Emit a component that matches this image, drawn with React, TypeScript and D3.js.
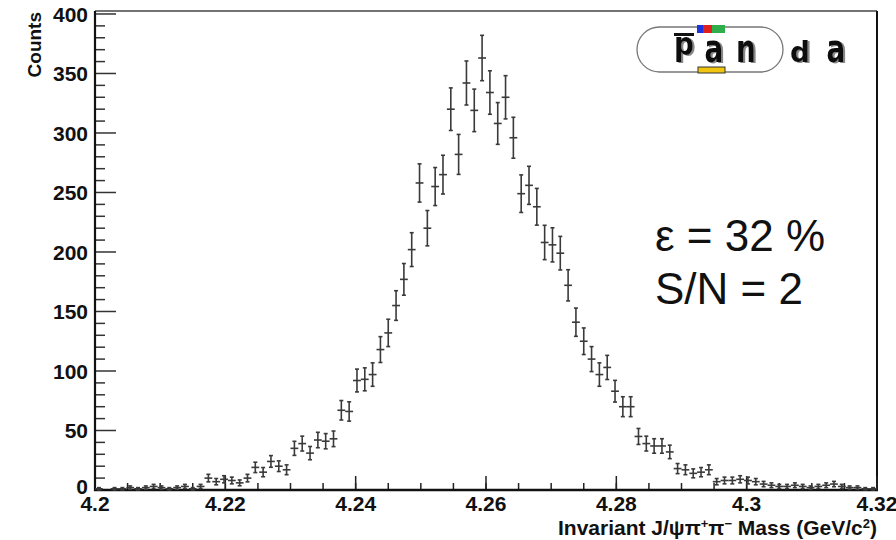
import * as d3 from "d3";

// histogram contents, 100 bins of 1.2 MeV from 4.2 to 4.32 GeV
const counts = [
  1, 0, 1, 1, 2, 1, 2, 3, 2, 1,
  2, 3, 1, 3, 10, 7, 9, 8, 6, 10,
  19, 15, 24, 20, 17, 35, 39, 31, 42, 41,
  43, 67, 66, 92, 93, 97, 118, 132, 155, 177,
  202, 258, 220, 255, 265, 320, 282, 342, 319, 363,
  334, 308, 330, 296, 249, 256, 238, 208, 206, 199,
  172, 141, 125, 110, 97, 103, 83, 70, 70, 45,
  39, 37, 37, 32, 18, 17, 14, 15, 17, 7,
  8, 8, 9, 8, 7, 5, 4, 3, 3, 4,
  3, 2, 3, 4, 5, 3, 2, 2, 1, 1
];
const histLow = 4.2;
const binWidth = 0.0012;

const xTicks = [4.2, 4.22, 4.24, 4.26, 4.28, 4.3, 4.32];
const xTickLabels = ["4.2", "4.22", "4.24", "4.26", "4.28", "4.3", "4.32"];
const yTicks = [0, 50, 100, 150, 200, 250, 300, 350, 400];
const yTickLabels = ["0", "50", "100", "150", "200", "250", "300", "350", "400"];

const infoLines = ["ε = 32 %", "S/N = 2"];
const logoLetters = ["p", "a", "n", "d", "a"];

export default function App() {
  const width = 896;
  const height = 540;
  const marginLeft = 95;
  const marginRight = 19;
  const marginTop = 11;
  const marginBottom = 50;

  const x = d3.scaleLinear()
    .domain([4.2, 4.32])
    .range([marginLeft, width - marginRight]);
  const y = d3.scaleLinear()
    .domain([0, 402.5])
    .range([height - marginBottom, marginTop]);

  const x0 = x.range()[0], x1 = x.range()[1];
  const y0 = y.range()[0], y1 = y.range()[1];

  // minor ticks
  const xMinor = d3.range(0, 25).map(i => 4.2 + i * 0.005);
  const yMinor = d3.range(0, 41).map(i => i * 10).filter(v => v % 50 !== 0);

  const font = "'Liberation Sans', Arial, Helvetica, sans-serif";
  const lx = [684, 714, 746, 800, 836]; // logo letter centres

  return (
    <svg width={width} height={height} style={{ position: "absolute", left: 0, top: 0, background: "#fff" }}>
      <defs>
        <filter id="logoShadow" x="-20%" y="-20%" width="150%" height="150%">
          <feDropShadow dx={2} dy={1} stdDeviation={0.4} floodColor="#888" floodOpacity={1} />
        </filter>
      </defs>
      <rect width={width} height={height} fill="#fff" />

      {/* frame */}
      <line x1={x0} x2={x1} y1={y1} y2={y1} stroke="#444" strokeWidth={1.5} />
      <line x1={x1} x2={x1} y1={y1} y2={y0} stroke="#111" strokeWidth={2} />

      {/* y ticks */}
      <g stroke="#333">
        {yTicks.map(t => (
          <line key={"ym" + t} x1={x0} x2={x0 + 21} y1={y(t)} y2={y(t)} strokeWidth={1.5} />
        ))}
        {yMinor.map(t => (
          <line key={"yn" + t} x1={x0} x2={x0 + 10} y1={y(t)} y2={y(t)} strokeWidth={1.5} />
        ))}
      </g>
      {/* x ticks */}
      <g stroke="#222">
        {xTicks.map(t => (
          <line key={"xm" + t} x1={x(t)} x2={x(t)} y1={y0} y2={y0 - 14} strokeWidth={1.5} />
        ))}
        {xMinor.map((t, i) => (
          <line key={"xn" + i} x1={x(t)} x2={x(t)} y1={y0} y2={y0 - 7} strokeWidth={1.5} />
        ))}
      </g>

      {/* axes */}
      <line x1={x0} x2={x0} y1={y1} y2={y0 + 1} stroke="#111" strokeWidth={2.2} />
      <line x1={x0 - 1} x2={x1 + 1} y1={y0} y2={y0} stroke="#111" strokeWidth={2.5} />

      {/* tick labels */}
      <g fontFamily={font} fontWeight="bold" fontSize={21} fill="#111">
        {yTicks.map((t, i) => (
          <text key={"yl" + t} x={x0 - 7} y={t === 0 ? y(t) - 4 : y(t)} dy="0.36em" textAnchor="end">{yTickLabels[i]}</text>
        ))}
        {xTicks.map((t, i) => (
          <text key={"xl" + t} x={x(t)} y={511} textAnchor="middle">{xTickLabels[i]}</text>
        ))}
      </g>

      {/* axis titles */}
      <text transform="translate(41,12) rotate(-90)" textAnchor="end" fontFamily={font}
        fontWeight="bold" fontSize={19} fill="#111">Counts</text>
      <text x={x1} y={535} textAnchor="end" fontFamily={font} fontWeight="bold" fontSize={21} fill="#111">
        Invariant J/ψπ<tspan dy={-7} fontSize={13}>+</tspan><tspan dy={7}>π</tspan>
        <tspan dy={-7} fontSize={13}>−</tspan><tspan dy={7}> Mass (GeV/c</tspan>
        <tspan dy={-7} fontSize={13}>2</tspan><tspan dy={7}>)</tspan>
      </text>

      {/* histogram points with errors */}
      <g stroke="#3a3a3a" strokeWidth={1.6}>
        {counts.map((c, i) => {
          if (c <= 0) return null;
          const lo = histLow + i * binWidth;
          const cx = x(lo + binWidth / 2);
          const e = Math.sqrt(c);
          return (
            <g key={i}>
              <line x1={x(lo)} x2={x(lo + binWidth)} y1={y(c)} y2={y(c)} />
              <line x1={cx} x2={cx} y1={y(c + e)} y2={y(Math.max(0, c - e))} />
              <line x1={cx - 2} x2={cx + 2} y1={y(c + e)} y2={y(c + e)} />
              <line x1={cx - 2} x2={cx + 2} y1={y(Math.max(0, c - e))} y2={y(Math.max(0, c - e))} />
            </g>
          );
        })}
      </g>

      {/* efficiency text */}
      <g fontFamily={font} fontSize={44} fill="#111">
        {infoLines.map((s, i) => (
          <text key={s} x={655} y={251 + i * 53}>{s}</text>
        ))}
      </g>

      {/* PANDA logo */}
      <g>
        <rect x={637} y={27} width={146} height={45} rx={22.5} fill="none" stroke="#777" strokeWidth={1.3} />
        <rect x={697} y={25} width={6} height={8} fill="#1a35e0" />
        <rect x={703} y={25} width={9} height={8} fill="#e0201c" />
        <rect x={712} y={25} width={13} height={8} fill="#2fae4c" />
        <rect x={698} y={67} width={27} height={6} fill="#f1c40f" stroke="#333" strokeWidth={1} />
        <rect x={674} y={33} width={20} height={3} fill="#111" />
        <g filter="url(#logoShadow)">
          {logoLetters.map((l, i) => {
            const py = l === "p" ? 55 : 62;
            const sy = l === "p" ? 0.95 : l === "d" ? 0.85 : 1.15;
            return (
              <text key={i} transform={`translate(${lx[i]},${py}) scale(0.82,${sy})`} textAnchor="middle"
                fontFamily="'DejaVu Sans', sans-serif" fontWeight="bold" fontSize={34} fill="#111">{l}</text>
            );
          })}
        </g>
      </g>
    </svg>
  );
}
